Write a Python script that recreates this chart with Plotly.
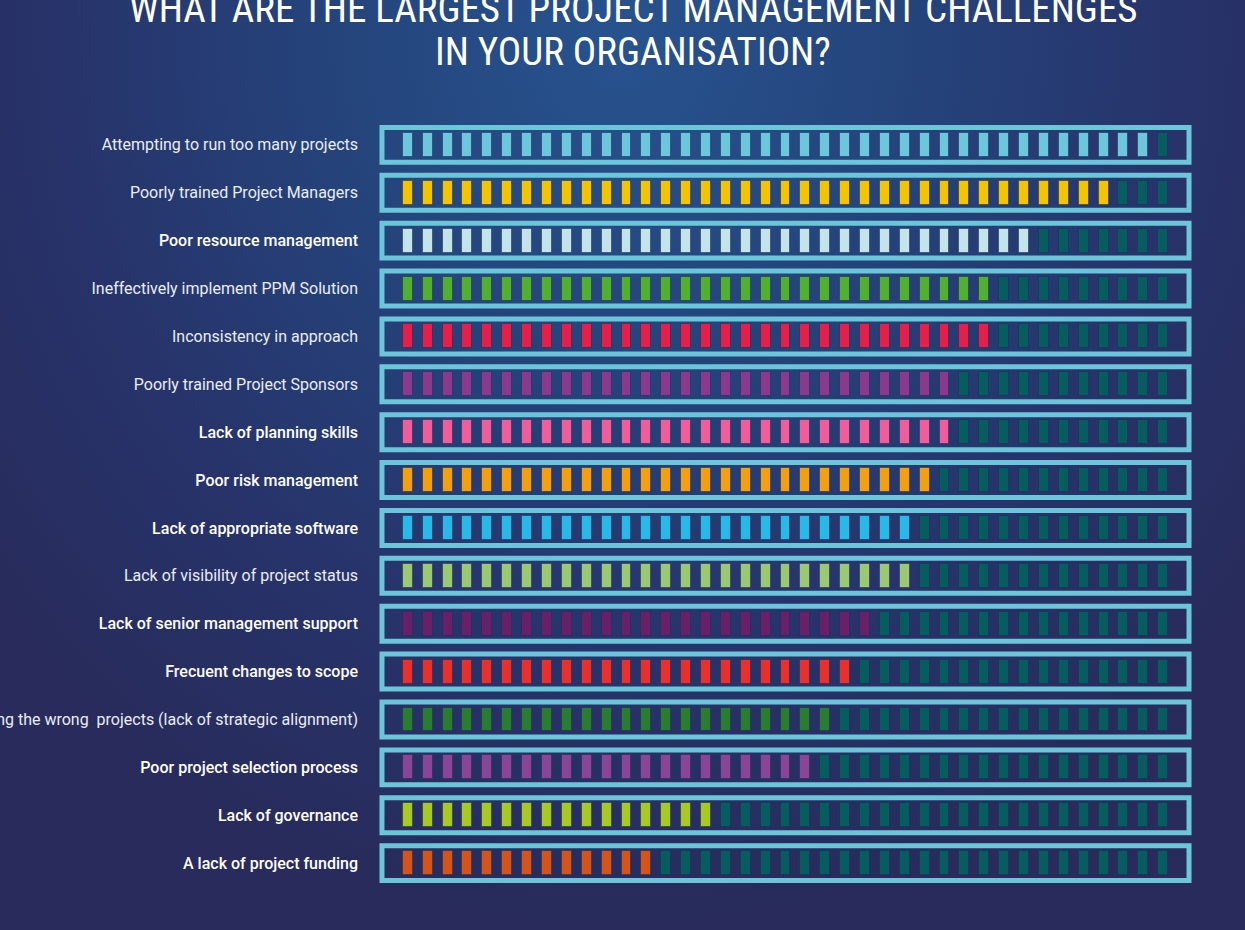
import base64
import plotly.graph_objects as go

# ---------------- data ----------------
labels = [
    "Attempting to run too many projects",
    "Poorly trained Project Managers",
    "Poor resource management",
    "Ineffectively implement PPM Solution",
    "Inconsistency in approach",
    "Poorly trained Project Sponsors",
    "Lack of planning skills",
    "Poor risk management",
    "Lack of appropriate software",
    "Lack of visibility of project status",
    "Lack of senior management support",
    "Frecuent changes to scope",
    "Selecting the wrong  projects (lack of strategic alignment)",
    "Poor project selection process",
    "Lack of governance",
    "A lack of project funding",
]
filled_blocks = [38, 36, 32, 30, 30, 28, 28, 27, 26, 26, 24, 23, 22, 21, 16, 13]
total_blocks = 39
bold_rows = [2, 6, 7, 8, 10, 11, 13, 14, 15]
row_colors = [
    "#6cc6dc", "#f2c500", "#c3e4ea", "#52b030", "#e31f4a", "#8a3a8e",
    "#ef5d9a", "#f29f10", "#28b9e8", "#9cc874", "#682068", "#e8302d",
    "#2a7d30", "#8a4597", "#a8c823", "#d5541a",
]
empty_color = "#065c5e"
title_lines = ["WHAT ARE THE LARGEST PROJECT MANAGEMENT CHALLENGES", "IN YOUR ORGANISATION?"]

# ---------------- geometry ----------------
W, H = 1245, 930
ML, MT = 378, 97
PW, PH = 815, 814
MR = W - ML - PW
MB = H - MT - PH
BLOCK_H = 0.5
BLOCK_W = 0.5

n_rows = len(labels)

fx, fy, fb, fc = [], [], [], []
ex, ey, eb = [], [], []
for r in range(n_rows):
    for k in range(total_blocks):
        if k < filled_blocks[r]:
            fx.append(k); fy.append(BLOCK_H); fb.append(r - BLOCK_H / 2); fc.append(row_colors[r])
        else:
            ex.append(k); ey.append(BLOCK_H); eb.append(r - BLOCK_H / 2)

fig = go.Figure()
fig.add_trace(go.Bar(x=fx, y=fy, base=fb, width=BLOCK_W,
                     marker=dict(color=fc, line=dict(color="rgba(30,45,95,0.55)", width=1)),
                     hoverinfo="skip", showlegend=False))
fig.add_trace(go.Bar(x=ex, y=ey, base=eb, width=BLOCK_W,
                     marker=dict(color=empty_color, line=dict(color="rgba(30,45,95,0.55)", width=1)),
                     hoverinfo="skip", showlegend=False))

for r in range(n_rows):
    fig.add_shape(type="rect", xref="x", yref="y",
                  x0=-1.3, x1=total_blocks - 1 + 1.3,
                  y0=r - 0.365, y1=r + 0.365,
                  line=dict(color="#6cc6da", width=5), fillcolor="rgba(0,0,0,0)",
                  layer="below")

ticktext = [f'<span style="font-weight:500;fill:#ffffff">{t}</span>' if i in bold_rows else t
            for i, t in enumerate(labels)]

# title lines as annotations (tight line spacing)
title_centers_px = [9, 51.5]
for line, cy in zip(title_lines, title_centers_px):
    fig.add_annotation(text=line, xref="paper", yref="paper",
                       x=(633 - ML) / PW, y=1 + (MT - cy) / PH,
                       xanchor="center", yanchor="middle", showarrow=False,
                       font=dict(family="Roboto Condensed, Liberation Sans Narrow, Roboto",
                                 size=39, color="#ffffff"))

# background radial gradient
svg = f'''<svg xmlns="http://www.w3.org/2000/svg" width="{W}" height="{H}" viewBox="0 0 {W} {H}">
<defs><radialGradient id="g" cx="{W/2}" cy="40" r="900" gradientUnits="userSpaceOnUse"
 gradientTransform="translate({W/2} 40) scale(0.9 1) translate({-W/2} -40)">
<stop offset="0" stop-color="#27538e"/>
<stop offset="0.35" stop-color="#25447c"/>
<stop offset="0.7" stop-color="#27336a"/>
<stop offset="1" stop-color="#282b5b"/>
</radialGradient></defs>
<rect width="{W}" height="{H}" fill="url(#g)"/></svg>'''
src = "data:image/svg+xml;base64," + base64.b64encode(svg.encode()).decode()

fig.update_layout(
    width=W, height=H,
    margin=dict(l=ML, r=MR, t=MT, b=MB, pad=0, autoexpand=False),
    paper_bgcolor="#26356c",
    plot_bgcolor="rgba(0,0,0,0)",
    barmode="overlay",
    bargap=0,
    showlegend=False,
    font=dict(family="Roboto, sans-serif", color="#e9eef6"),
    images=[dict(source=src, xref="paper", yref="paper",
                 x=-ML / PW, y=1 + MT / PH, sizex=W / PW, sizey=H / PH,
                 sizing="stretch", layer="below", xanchor="left", yanchor="top")],
    xaxis=dict(range=[-1.5, total_blocks + 0.5], visible=False, fixedrange=True),
    yaxis=dict(range=[n_rows, -1], tickmode="array", tickvals=list(range(n_rows)),
               ticktext=ticktext, showgrid=False, zeroline=False, showline=False,
               ticks="", ticklabelstandoff=19, tickfont=dict(size=16, color="#e9eef6"),
               automargin=False, fixedrange=True),
)

fig.write_html("out.html", config={"displayModeBar": False},
               post_script="document.body.style.margin='0';document.body.style.overflow='hidden';")
